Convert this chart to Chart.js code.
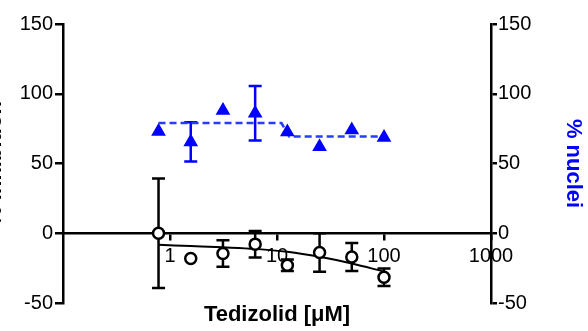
<!DOCTYPE html>
<html>
<head>
<meta charset="utf-8">
<script src="https://cdn.jsdelivr.net/npm/chart.js@4/dist/chart.umd.min.js"></script>
<style>
  html, body { margin: 0; padding: 0; background: #fff; }
  canvas { display: block; }
</style>
</head>
<body>
<canvas id="c" width="588" height="331"></canvas>
<script>
// Tedizolid concentrations (µM)
const concentrations = [0.78125, 1.5625, 3.125, 6.25, 12.5, 25, 50, 100];

// % inhibition (left axis), mean and error
const inhibition    = [0, -18.1, -14.5, -7.8, -22.9, -13.8, -17, -31.5];
const inhibitionErr = [39.3, 0, 9.5, 9.5, 4.1, 13.8, 10, 6.3];

// % nuclei (right axis), mean and error
const nuclei    = [73, 65.5, 88, 86, 72.5, 62, 74, 68.7];
const nucleiErr = [0, 14.1, 0, 19.6, 0, 0, 0, 0];

// fitted curves
const inhibitionFitX = [0.78125, 1.5625, 3.125, 6.25, 12.5, 25, 50, 100];
const inhibitionFit  = [-8.3, -9.2, -10.1, -11.2, -13.3, -16.9, -21.7, -27.5];
const nucleiFitX = [0.78125, 11, 13, 100];
const nucleiFit  = [79, 79, 69.3, 69.3];

// axis ticks
const xTickValues = [1, 10, 100, 1000];
const xTickLabels = ['1', '10', '100', '1000'];
const yTickValues = [-50, 0, 50, 100, 150];

const BLUE = 'rgb(0,0,255)';
const BLACK = '#000';

const toPoints = (xs, ys) => xs.map((x, i) => ({ x: x, y: ys[i] }));

// vertical error bars with caps, drawn beneath the markers
const errorBarPlugin = {
  id: 'errorBars',
  beforeDatasetsDraw(chart) {
    const ctx = chart.ctx;
    chart.data.datasets.forEach((ds, i) => {
      if (!ds.errors) return;
      const meta = chart.getDatasetMeta(i);
      const ys = chart.scales[meta.yAxisID];
      ctx.save();
      ctx.strokeStyle = ds.borderColor;
      ctx.lineWidth = 2.5;
      meta.data.forEach((pt, j) => {
        const e = ds.errors[j];
        if (!e) return;
        const v = ds.data[j].y;
        const top = ys.getPixelForValue(v + e);
        const bot = ys.getPixelForValue(v - e);
        const half = 6.5;
        ctx.beginPath();
        ctx.moveTo(pt.x, top); ctx.lineTo(pt.x, bot);
        ctx.moveTo(pt.x - half, top); ctx.lineTo(pt.x + half, top);
        ctx.moveTo(pt.x - half, bot); ctx.lineTo(pt.x + half, bot);
        ctx.stroke();
      });
      ctx.restore();
    });
  }
};

Chart.defaults.font.family = "'Liberation Sans', Arial, sans-serif";
Chart.defaults.color = BLACK;

new Chart(document.getElementById('c'), {
  type: 'scatter',
  data: {
    datasets: [
      {
        label: '% inhibition',
        data: toPoints(concentrations, inhibition),
        errors: inhibitionErr,
        yAxisID: 'y',
        showLine: false,
        pointStyle: 'circle',
        pointRadius: 5.5,
        borderWidth: 2.5,
        borderColor: BLACK,
        backgroundColor: '#fff'
      },
      {
        label: 'inhibition fit',
        data: toPoints(inhibitionFitX, inhibitionFit),
        yAxisID: 'y',
        showLine: true,
        pointRadius: 0,
        borderWidth: 2,
        borderColor: BLACK,
        cubicInterpolationMode: 'monotone'
      },
      {
        label: '% nuclei',
        data: toPoints(concentrations, nuclei),
        errors: nucleiErr,
        yAxisID: 'y2',
        showLine: false,
        pointStyle: 'triangle',
        pointRadius: 7,
        borderWidth: 1.5,
        borderColor: BLUE,
        backgroundColor: BLUE
      },
      {
        label: 'nuclei fit',
        data: toPoints(nucleiFitX, nucleiFit),
        yAxisID: 'y2',
        showLine: true,
        pointRadius: 0,
        borderWidth: 2.5,
        borderDash: [7, 4],
        borderColor: 'rgb(40,60,255)'
      }
    ]
  },
  options: {
    responsive: false,
    animation: false,
    layout: { padding: { top: 24, left: 0, right: 0, bottom: 0 } },
    plugins: { legend: { display: false }, tooltip: { enabled: false } },
    scales: {
      x: {
        type: 'logarithmic',
        position: { y: 0 },
        min: 0.1,
        max: 1000,
        z: 1,
        afterBuildTicks: s => { s.ticks = xTickValues.map(v => ({ value: v })); },
        ticks: {
          callback: (v, i) => xTickLabels[i],
          autoSkip: false,
          maxRotation: 0,
          color: BLACK,
          font: { size: 20 },
          padding: 5
        },
        grid: { drawOnChartArea: false, drawTicks: true, tickLength: 6, color: BLACK, lineWidth: 2.5 },
        border: { display: true, color: BLACK, width: 2.5 }
      },
      xt: {
        type: 'linear',
        position: 'bottom',
        grid: { display: false, drawTicks: false },
        border: { display: false },
        ticks: { display: false },
        title: {
          display: true,
          text: 'Tedizolid [μM]',
          color: BLACK,
          font: { size: 22, weight: 'bold' },
          padding: { top: 0, bottom: 3 }
        },
        afterFit: s => { s.height = 28; }
      },
      y: {
        type: 'linear',
        position: 'left',
        min: -50,
        max: 150,
        afterBuildTicks: s => { s.ticks = yTickValues.map(v => ({ value: v })); },
        ticks: { color: BLACK, font: { size: 20 }, padding: 2 },
        grid: { drawOnChartArea: false, tickLength: 8, color: BLACK, lineWidth: 2.5 },
        border: { color: BLACK, width: 2.5 },
        title: {
          display: true,
          text: '% inhibition',
          color: BLACK,
          font: { size: 22, weight: 'bold' },
          padding: { top: -18, bottom: 0 }
        },
        afterFit: s => { s.width = 63; }
      },
      y2: {
        type: 'linear',
        position: 'right',
        min: -50,
        max: 150,
        afterBuildTicks: s => { s.ticks = yTickValues.map(v => ({ value: v })); },
        ticks: { color: BLACK, font: { size: 20 }, padding: 1 },
        grid: { drawOnChartArea: false, tickLength: 6, color: BLACK, lineWidth: 2.5 },
        border: { color: BLACK, width: 2.5 },
        title: {
          display: true,
          text: '% nuclei',
          color: BLUE,
          font: { size: 22, weight: 'bold' },
          padding: { top: 2, bottom: 0 }
        },
        afterFit: s => { s.width = 97; }
      }
    }
  },
  plugins: [errorBarPlugin]
});
</script>
</body>
</html>
